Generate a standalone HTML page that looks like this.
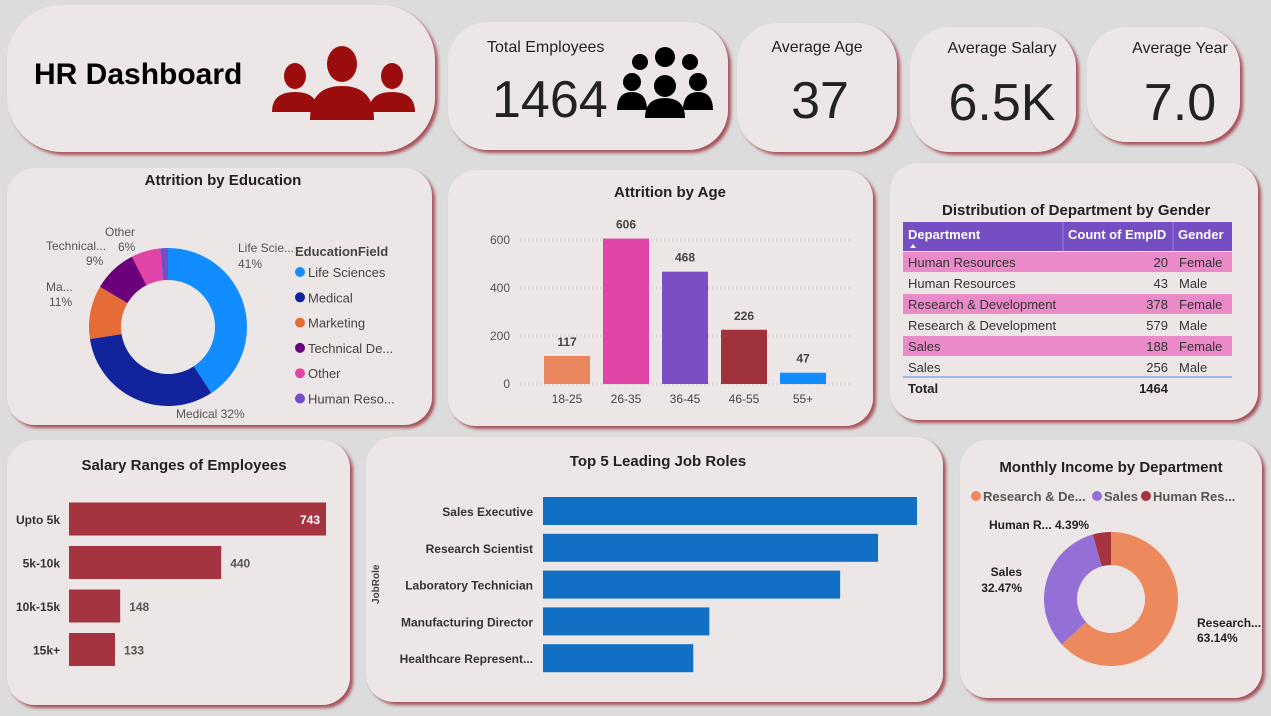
<!DOCTYPE html>
<html><head><meta charset="utf-8">
<style>
body{margin:0;background:#dcdcdc;width:1271px;height:716px;overflow:hidden;font-family:"Liberation Sans",sans-serif;}
svg{display:block}
text{font-family:"Liberation Sans",sans-serif}
</style></head>
<body>
<svg id="dash" width="1271" height="716" viewBox="0 0 1271 716">
<defs>
<filter id="sh" x="-10%" y="-10%" width="125%" height="125%">
<feDropShadow dx="3" dy="3" stdDeviation="1.5" flood-color="#9e3a42" flood-opacity="0.85"/>
</filter>
</defs>
<g id="cards"></g>
<g id="content"></g>
</svg>
<script>
// ---------- data ----------
const eduCategories = ["Life Sciences","Medical","Marketing","Technical De...","Other","Human Reso..."];
const eduValues = [41,32,11,9,6,1.6];
const eduLabels = ["Life Scie...|41%","Medical 32%","Ma...|11%","Technical...|9%","Other|6%",""];
const ageCategories = ["18-25","26-35","36-45","46-55","55+"];
const ageValues = [117,606,468,226,47];
const ageTicks = [0,200,400,600];
const salCategories = ["Upto 5k","5k-10k","10k-15k","15k+"];
const salValues = [743,440,148,133];
const roleCategories = ["Sales Executive","Research Scientist","Laboratory Technician","Manufacturing Director","Healthcare Represent..."];
const roleValues = [326,292,259,145,131];
const incCategories = ["Research & Development","Sales","Human Resources"];
const incValues = [63.14,32.47,4.39];
const tblDept = ["Human Resources","Human Resources","Research & Development","Research & Development","Sales","Sales"];
const tblCount = [20,43,378,579,188,256];
const tblGender = ["Female","Male","Female","Male","Female","Male"];

const NS="http://www.w3.org/2000/svg";
function mk(tag,attrs,parent,txt){const e=document.createElementNS(NS,tag);for(const k in attrs)e.setAttribute(k,attrs[k]);if(txt!==undefined)e.textContent=txt;(parent||content).appendChild(e);return e;}
const cards=document.getElementById('cards');
const content=document.getElementById('content');

// ---------- cards ----------
const cardDefs=[
 ["title-card",7,5,428,147,55],["total-employees-card",448,22,280,128,40],["average-age-card",737,23,160,129,40],
 ["average-salary-card",910,27,166,125,40],["average-year-card",1087,27,153,115,40],
 ["attrition-education-card",7,168,425,257,28],["attrition-age-card",448,170,425,256,28],["department-gender-card",890,163,368,257,28],
 ["salary-ranges-card",7,440,343,265,28],["top-job-roles-card",366,437,577,265,28],["monthly-income-card",960,440,302,258,28]];
cardDefs.forEach(c=>{
 const r=mk('rect',{x:c[1],y:c[2],width:c[3],height:c[4],rx:c[5],fill:'#ece6e6',filter:'url(#sh)'},cards);
 
 
});

function T(x,y,s,opts,name){const o=Object.assign({x:x,y:y,'font-size':13,fill:'#333'},opts||{});const t=mk('text',o,content,s);return t;}

// ---------- header ----------
T(34,84,"HR Dashboard",{'font-size':30,'font-weight':'bold',fill:'#000'},'dashboard-title');
(function(){const g=mk('g',{fill:'#9b0d0d'});
 mk('ellipse',{cx:295,cy:76,rx:11,ry:13},g);mk('path',{d:'M272 112 Q272 92 295 92 Q318 92 318 112 Z'},g);
 mk('ellipse',{cx:392,cy:76,rx:11,ry:13},g);mk('path',{d:'M369 112 Q369 92 392 92 Q415 92 415 112 Z'},g);
 mk('ellipse',{cx:342,cy:64,rx:15,ry:18},g);mk('path',{d:'M310 120 Q310 86 342 86 Q374 86 374 120 Z'},g);})();
T(487,52,"Total Employees",{'font-size':16,fill:'#222'},'total-employees-label');
T(492,117,"1464",{'font-size':52,fill:'#222'},'total-employees-value');
(function(){const g=mk('g',{fill:'#000'});
 [[640,62,8],[690,62,8],[665,57,10],[632,82,9],[698,82,9],[665,86,11]].forEach(p=>mk('circle',{cx:p[0],cy:p[1],r:p[2]},g));
 mk('path',{d:'M617 110 Q617 92 632 92 Q647 92 647 110 Z'},g);mk('path',{d:'M683 110 Q683 92 698 92 Q713 92 713 110 Z'},g);
 mk('path',{d:'M645 118 Q645 98 665 98 Q685 98 685 118 Z'},g);})();
T(817,52,"Average Age",{'font-size':16,fill:'#222','text-anchor':'middle'},'average-age-label');
T(820,118,"37",{'font-size':52,fill:'#222','text-anchor':'middle'},'average-age-value');
T(1002,53,"Average Salary",{'font-size':16,fill:'#222','text-anchor':'middle'},'average-salary-label');
T(1002,120,"6.5K",{'font-size':52,fill:'#222','text-anchor':'middle'},'average-salary-value');
T(1180,53,"Average Year",{'font-size':16,fill:'#222','text-anchor':'middle'},'average-year-label');
T(1180,120,"7.0",{'font-size':52,fill:'#222','text-anchor':'middle'},'average-year-value');

// ---------- donut helper ----------
function arc(cx,cy,r0,r1,a0,a1){const p=(r,a)=>[cx+r*Math.sin(a),cy-r*Math.cos(a)];const L=(a1-a0)>Math.PI?1:0;
 const A=p(r1,a0),B=p(r1,a1),C=p(r0,a1),D=p(r0,a0);
 return `M${A[0]} ${A[1]} A${r1} ${r1} 0 ${L} 1 ${B[0]} ${B[1]} L${C[0]} ${C[1]} A${r0} ${r0} 0 ${L} 0 ${D[0]} ${D[1]} Z`;}

// ---------- attrition by education ----------
T(223,185,"Attrition by Education",{'font-size':15,'font-weight':'bold',fill:'#222','text-anchor':'middle'},'education-chart-title');
const eduColors=["#118dff","#12239e","#e66c37","#6b007b","#e044a7","#744ec2"];
(function(){const cx=168,cy=327,r1=79,r0=47;const tot=eduValues.reduce((a,b)=>a+b,0);let a=0;
 eduValues.forEach((v,i)=>{const a1=a+v/tot*2*Math.PI;const s=mk('path',{d:arc(cx,cy,r0,r1,a,a1),fill:eduColors[i]});
  a=a1;});})();
T(238,252,"Life Scie...",{'font-size':12,fill:'#555'},'education-label');T(238,268,"41%",{'font-size':12,fill:'#555'},'education-label');
T(176,418,"Medical 32%",{'font-size':12,fill:'#555'},'education-label');
T(46,291,"Ma...",{'font-size':12,fill:'#555'},'education-label');T(49,306,"11%",{'font-size':12,fill:'#555'},'education-label');
T(46,250,"Technical...",{'font-size':12,fill:'#555'},'education-label');T(86,265,"9%",{'font-size':12,fill:'#555'},'education-label');
T(105,236,"Other",{'font-size':12,fill:'#555'},'education-label');T(118,251,"6%",{'font-size':12,fill:'#555'},'education-label');
T(295,256,"EducationField",{'font-size':13,'font-weight':'bold',fill:'#444'},'education-legend-title');
eduCategories.forEach((c,i)=>{const y=272+i*25.3;const d=mk('circle',{cx:300,cy:y,r:5,fill:eduColors[i]});
 T(308,y+5,c,{'font-size':13,fill:'#444'},'legend-entry');});

// ---------- attrition by age ----------
T(670,197,"Attrition by Age",{'font-size':15,'font-weight':'bold',fill:'#222','text-anchor':'middle'},'age-chart-title');
const ageColors=["#e9865e","#e044a7","#7b4fc4","#a0323c","#118dff"];
(function(){const y0=384,ky=0.24,x0=544,step=59,bw=46;const Y=v=>y0-v*ky;
 ageTicks.forEach(t=>{mk('line',{x1:520,x2:852,y1:Y(t),y2:Y(t),stroke:'#bbb','stroke-dasharray':'1,3'});T(510,Y(t)+4,String(t),{'font-size':12,fill:'#555','text-anchor':'end'},'age-y-tick');});
 ageValues.forEach((v,i)=>{const x=x0+i*step;const b=mk('rect',{x:x,y:Y(v),width:bw,height:v*ky,fill:ageColors[i]});
  T(x+bw/2,Y(v)-10,String(v),{'font-size':12,'font-weight':'bold',fill:'#444','text-anchor':'middle'},'age-bar-value');
  T(x+bw/2,403,ageCategories[i],{'font-size':12,fill:'#444','text-anchor':'middle'},'age-x-tick');});})();

// ---------- table ----------
T(942,215,"Distribution of Department by Gender",{'font-size':15,'font-weight':'bold',fill:'#222'},'table-title');
(function(){const hdr=mk('rect',{x:903,y:222,width:329,height:29,fill:'#744ec2'});
 mk('line',{x1:1063,x2:1063,y1:222,y2:251,stroke:'#9a80dd'});mk('line',{x1:1173,x2:1173,y1:222,y2:251,stroke:'#9a80dd'});
 T(908,239,"Department",{'font-size':13,'font-weight':'bold',fill:'#fff'},'column-header-department');
 mk('path',{d:'M910 248 L913 244 L916 248 Z',fill:'#fff'});
 T(1068,239,"Count of EmpID",{'font-size':13,'font-weight':'bold',fill:'#fff'},'column-header-count');
 T(1178,239,"Gender",{'font-size':13,'font-weight':'bold',fill:'#fff'},'column-header-gender');
 tblDept.forEach((d,i)=>{const y=252+i*21;if(tblGender[i]==="Female"){const r=mk('rect',{x:903,y:y,width:329,height:20,fill:'#ea8ac8'});}
  T(908,y+15,d,{'font-size':13,fill:'#333'},'table-cell-department');
  T(1168,y+15,String(tblCount[i]),{'font-size':13,fill:'#333','text-anchor':'end'},'table-cell-count');
  T(1179,y+15,tblGender[i],{'font-size':13,fill:'#333'},'table-cell-gender');});
 mk('line',{x1:903,x2:1232,y1:377,y2:377,stroke:'#4a90d9'});
 T(908,393,"Total",{'font-size':13,'font-weight':'bold',fill:'#222'},'table-total-label');
 T(1168,393,String(tblCount.reduce((a,b)=>a+b,0)),{'font-size':13,'font-weight':'bold',fill:'#222','text-anchor':'end'},'table-total-value');})();

// ---------- salary ranges ----------
T(184,470,"Salary Ranges of Employees",{'font-size':15,'font-weight':'bold',fill:'#222','text-anchor':'middle'},'salary-chart-title');
(function(){const x0=69,kx=257/743,bh=33;const X=v=>x0+v*kx;
 salValues.forEach((v,i)=>{const yc=519+i*43.5;const b=mk('rect',{x:x0,y:yc-bh/2,width:X(v)-x0,height:bh,fill:'#a4343f'});
  T(60,yc+5,salCategories[i],{'font-size':12,'font-weight':'bold',fill:'#333','text-anchor':'end'},'salary-y-tick');
  if(i===0)T(X(v)-6,yc+5,String(v),{'font-size':12,'font-weight':'bold',fill:'#fff','text-anchor':'end'},'salary-bar-value');
  else T(X(v)+9,yc+5,String(v),{'font-size':12,'font-weight':'bold',fill:'#555'},'salary-bar-value');});})();

// ---------- top 5 job roles ----------
T(658,466,"Top 5 Leading Job Roles",{'font-size':15,'font-weight':'bold',fill:'#222','text-anchor':'middle'},'roles-chart-title');
T(0,0,"JobRole",{'font-size':10,'font-weight':'bold',fill:'#444',transform:'translate(379,604) rotate(-90)'},'roles-y-axis-title');
(function(){const x0=543,kx=374/326,bh=28;
 roleValues.forEach((v,i)=>{const yc=511+i*36.8;const b=mk('rect',{x:x0,y:yc-bh/2,width:v*kx,height:bh,fill:'#1170c4'});
  T(533,yc+5,roleCategories[i],{'font-size':12,'font-weight':'bold',fill:'#333','text-anchor':'end'},'roles-y-tick');});})();

// ---------- monthly income ----------
T(1111,472,"Monthly Income by Department",{'font-size':15,'font-weight':'bold',fill:'#222','text-anchor':'middle'},'income-chart-title');
const incColors=["#ec8a5e","#9470d6","#a4343f"];
const incLegend=["Research & De...","Sales","Human Res..."];
[[976,983],[1097,1104],[1146,1153]].forEach((p,i)=>{const d=mk('circle',{cx:p[0],cy:496,r:5,fill:incColors[i]});
 T(p[1],501,incLegend[i],{'font-size':13,'font-weight':'bold',fill:'#555'},'income-legend-entry');});
(function(){const cx=1111,cy=599,r1=67,r0=34;const tot=incValues.reduce((a,b)=>a+b,0);let a=0;
 incValues.forEach((v,i)=>{const a1=a+v/tot*2*Math.PI;const s=mk('path',{d:arc(cx,cy,r0,r1,a,a1),fill:incColors[i]});a=a1;});})();
T(989,529,"Human R... "+incValues[2]+"%",{'font-size':12,'font-weight':'bold',fill:'#222'},'income-label-hr');
T(1022,576,"Sales",{'font-size':12,'font-weight':'bold',fill:'#222','text-anchor':'end'},'income-label-sales');
T(1022,592,incValues[1]+"%",{'font-size':12,'font-weight':'bold',fill:'#222','text-anchor':'end'},'income-label-sales-value');
T(1197,627,"Research...",{'font-size':12,'font-weight':'bold',fill:'#222'},'income-label-rd');
T(1197,642,incValues[0]+"%",{'font-size':12,'font-weight':'bold',fill:'#222'},'income-label-rd-value');
</script>
</body></html>
